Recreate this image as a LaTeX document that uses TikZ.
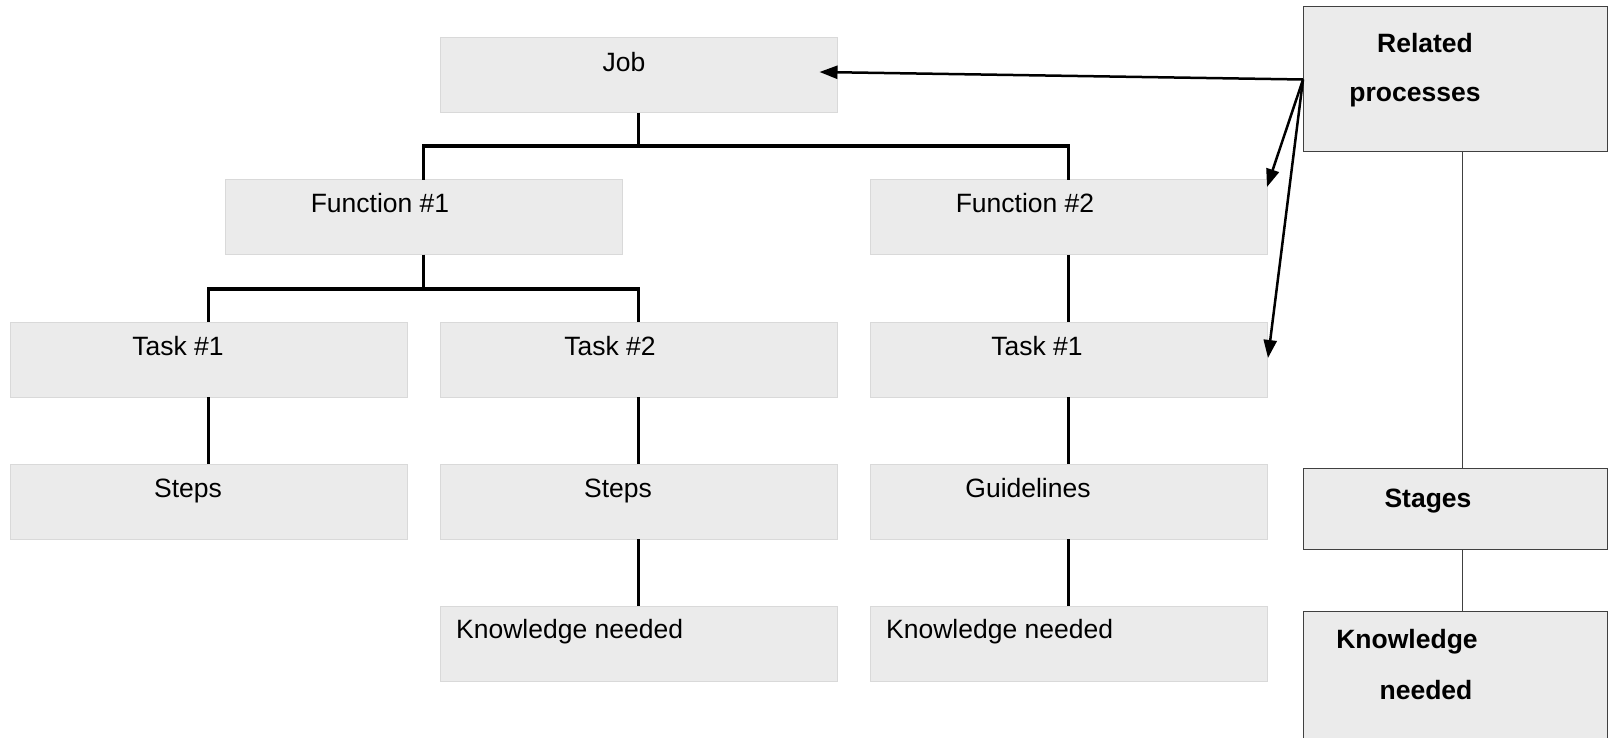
\documentclass[tikz,border=0pt]{standalone}
\usepackage{fontspec}
\setmainfont{Liberation Sans}
\usetikzlibrary{arrows.meta}
\definecolor{boxfill}{HTML}{EBEBEB}
\definecolor{boxline}{HTML}{D9D9D9}
\definecolor{darkline}{HTML}{404040}
\begin{document}
\begin{tikzpicture}[x=1pt,y=-1pt,
  box/.style={draw=boxline,fill=boxfill,line width=1pt,minimum width=397pt,minimum height=75pt,anchor=north west,inner sep=0pt,outer sep=0pt},
  rbox/.style={draw=darkline,fill=boxfill,line width=1pt,minimum width=304pt,anchor=north west,inner sep=0pt,outer sep=0pt},
  txt/.style={anchor=base,font=\fontsize{26.5}{30}\selectfont,inner sep=0pt},
  ltxt/.style={anchor=base west,font=\fontsize{26.5}{30}\selectfont,inner sep=0pt},
  btxt/.style={anchor=base,font=\fontsize{26.5}{30}\selectfont\bfseries,inner sep=0pt},
  tree/.style={line width=3.3pt},
  arr/.style={line width=2.5pt,-{Triangle[length=18pt,width=13pt]}},
  thinline/.style={line width=1pt,draw=darkline}]
\useasboundingbox (0,0) rectangle (1612,738);
\fill[white] (0,0) rectangle (1612,738);
% boxes
\node[box] (job) at (440,38) {};
\node[box] (f1) at (225,180) {};
\node[box] (f2) at (870,180) {};
\node[box] (t1) at (10,322) {};
\node[box] (t2) at (440,322) {};
\node[box] (t3) at (870,322) {};
\node[box] (s1) at (10,464) {};
\node[box] (s2) at (440,464) {};
\node[box] (g) at (870,464) {};
\node[box] (k2) at (440,606) {};
\node[box] (k3) at (870,606) {};
\node[rbox,minimum height=145pt] (rel) at (1303,7) {};
\node[rbox,minimum height=81pt] (stg) at (1303,468) {};
\node[rbox,minimum height=140pt] (kn) at (1303,611) {};
% texts
\node[txt] (tjob) at (624,72) {Job};
\node[txt] (tf1) at (380,213) {Function \#1};
\node[txt] (tf2) at (1025,213) {Function \#2};
\node[txt] (tt1) at (178,355) {Task \#1};
\node[txt] (tt2) at (610,355) {Task \#2};
\node[txt] (tt3) at (1037,355) {Task \#1};
\node[txt] (ts1) at (188,497) {Steps};
\node[txt] (ts2) at (618,497) {Steps};
\node[txt] (tg) at (1028,497) {Guidelines};
\node[ltxt] (tk2) at (456,638) {Knowledge needed};
\node[ltxt] (tk3) at (886,638) {Knowledge needed};
\node[btxt] (trel1) at (1425,53) {Related};
\node[btxt] (trel2) at (1415,102) {processes};
\node[btxt] (tstg) at (1428,507) {Stages};
\node[btxt] (tkn1) at (1407,648) {Knowledge};
\node[btxt] (tkn2) at (1426,699) {needed};
% tree connectors
\draw[tree] (job.south) -- ++(0,33) -| (f1.north);
\draw[tree] (job.south) -- ++(0,33) -| (f2.north);
\draw[tree] (f1.south) -- ++(0,34) -| (t1.north);
\draw[tree] (f1.south) -- ++(0,34) -| (t2.north);
\draw[tree] (f2.south) -- (t3.north);
\draw[tree] (t1.south) -- (s1.north);
\draw[tree] (t2.south) -- (s2.north);
\draw[tree] (t3.south) -- (g.north);
\draw[tree] (s2.south) -- (k2.north);
\draw[tree] (g.south) -- (k3.north);
% arrows from related processes
\draw[arr] (rel.west) -- ([xshift=-17.5pt,yshift=3.5pt]job.east);
\draw[arr] (rel.west) -- ([yshift=-7pt]f2.north east);
\draw[arr] (rel.west) -- ([xshift=1pt,yshift=1.5pt]t3.east);
% thin connectors on the right
\draw[thinline] ([xshift=7pt]rel.south) -- ([xshift=7pt]stg.north);
\draw[thinline] ([xshift=7pt]stg.south) -- ([xshift=7pt]kn.north);
\end{tikzpicture}
\end{document}
